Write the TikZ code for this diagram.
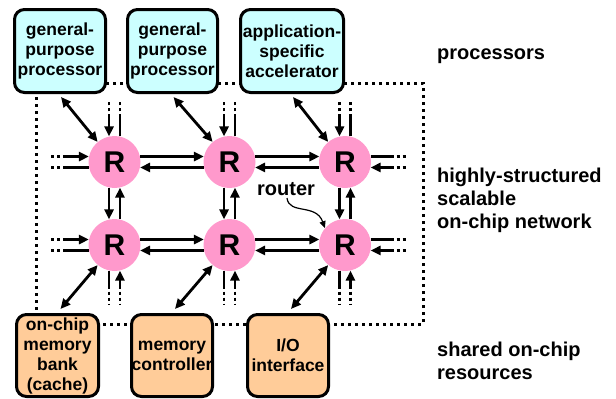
\documentclass[tikz,border=0pt]{standalone}
\usepackage{fontspec}
\setmainfont{Liberation Sans}
\usetikzlibrary{arrows.meta,calc}
\definecolor{procfill}{RGB}{204,255,255}
\definecolor{resfill}{RGB}{255,204,153}
\definecolor{routfill}{RGB}{255,153,204}
\tikzset{
  box/.style={draw=black,line width=3pt,rounded corners=10pt,inner sep=0pt,align=center,
    font=\fontsize{17.5}{20}\selectfont\bfseries},
  procbox/.style={box,fill=procfill},
  resbox/.style={box,fill=resfill},
  router/.style={circle,fill=routfill,minimum size=52pt,inner sep=0pt,
    font=\fontsize{30}{30}\selectfont\bfseries},
  link/.style={line width=2.8pt,-{Triangle[length=10pt,width=9pt]}},
  plain/.style={line width=2.8pt},
  dbl/.style={line width=2.8pt,{Triangle[length=10pt,width=9pt]}-{Triangle[length=10pt,width=9pt]}},
  dotsline/.style={line width=2.8pt,dash pattern=on 3pt off 3pt,dash phase=3pt},
  border/.style={line width=3pt,dash pattern=on 3pt off 4pt},
  label/.style={anchor=base west,inner sep=0pt,font=\fontsize{20}{23}\selectfont\bfseries},
}
\begin{document}
\begin{tikzpicture}[x=1pt,y=-1pt]
\useasboundingbox (0,0) rectangle (616,399);
% dotted chip border
\draw[border] (36,83) rectangle (423,324);
% processors
\node[procbox,minimum width=91pt,minimum height=83pt] (B1) at (60,51) {general-\\purpose\\processor};
\node[procbox,minimum width=90pt,minimum height=83pt] (B2) at (172.5,51) {general-\\purpose\\processor};
\node[procbox,minimum width=103pt,minimum height=83pt] (B3) at (292,51) {application-\\specific\\accelerator};
% resources
\node[resbox,minimum width=82pt,minimum height=82pt] (M1) at (57.5,355.5) {on-chip\\memory\\bank\\(cache)};
\node[resbox,minimum width=81pt,minimum height=82pt] (M2) at (172,355.5) {memory\\controller};
\node[resbox,minimum width=81pt,minimum height=82pt] (M3) at (288,355.5) {I/O\\interface};
% routers
\node[router] (R11) at (114.5,162) {R};
\node[router] (R12) at (229.5,162) {R};
\node[router] (R13) at (345,162) {R};
\node[router] (R21) at (114.5,245) {R};
\node[router] (R22) at (229.5,245) {R};
\node[router] (R23) at (345,245) {R};
% horizontal links
\foreach \r in {1,2}{
  \draw[link] (R\r1.12) -- (R\r2.168);
  \draw[link] (R\r2.192) -- (R\r1.348);
  \draw[link] (R\r2.12) -- (R\r3.168);
  \draw[link] (R\r3.192) -- (R\r2.348);
  % left stubs
  \draw[link] ($(R\r1.168)+(-26,0)$) -- (R\r1.168);
  \draw[dotsline] ($(R\r1.168)+(-26,0)$) -- ++(-13,0);
  \draw[plain] (R\r1.192) -- ++(-26,0);
  \draw[dotsline] ($(R\r1.192)+(-26,0)$) -- ++(-13,0);
  % right stubs
  \draw[plain] (R\r3.12) -- ++(23,0);
  \draw[dotsline] ($(R\r3.12)+(23,0)$) -- ++(15,0);
  \draw[link] ($(R\r3.348)+(23,0)$) -- (R\r3.348);
  \draw[dotsline] ($(R\r3.348)+(23,0)$) -- ++(15,0);
}
% vertical links and stubs
\foreach \c in {1,2,3}{
  \draw[link] (R1\c.258) -- (R2\c.102);
  \draw[link] (R2\c.78) -- (R1\c.282);
  % top stubs
  \draw[link] ($(R1\c.102)+(0,-22)$) -- (R1\c.102);
  \draw[dotsline] ($(R1\c.102)+(0,-22)$) -- ++(0,-13);
  \draw[plain] (R1\c.78) -- ++(0,-22);
  \draw[dotsline] ($(R1\c.78)+(0,-22)$) -- ++(0,-13);
  % bottom stubs
  \draw[plain] (R2\c.258) -- ++(0,18);
  \draw[dotsline] ($(R2\c.258)+(0,18)$) -- ++(0,16);
  \draw[link] ($(R2\c.282)+(0,18)$) -- (R2\c.282);
  \draw[dotsline] ($(R2\c.282)+(0,18)$) -- ++(0,16);
  % attachments
  \draw[dbl] ($(B\c.south)+(1,3)$) -- (R1\c.130);
  \draw[dbl] (R2\c.230) -- ($(M\c.north)+(3,-4)$);
}
% router label
\node[label] (rt) at (257,195) {router};
\draw[line width=1.2pt,-{Triangle[length=7pt,width=6pt]}] (287,198) .. controls (289,215) and (316,203) .. (R23.140);
% right-hand labels
\node[label] (l1) at (437,59) {processors};
\node[label] (l2) at (437,182.5) {highly-structured};
\node[label] (l3) at (437,205.5) {scalable};
\node[label] (l4) at (437,228.5) {on-chip network};
\node[label] (l5) at (437,356.5) {shared on-chip};
\node[label] (l6) at (437,379.5) {resources};
\end{tikzpicture}
\end{document}
